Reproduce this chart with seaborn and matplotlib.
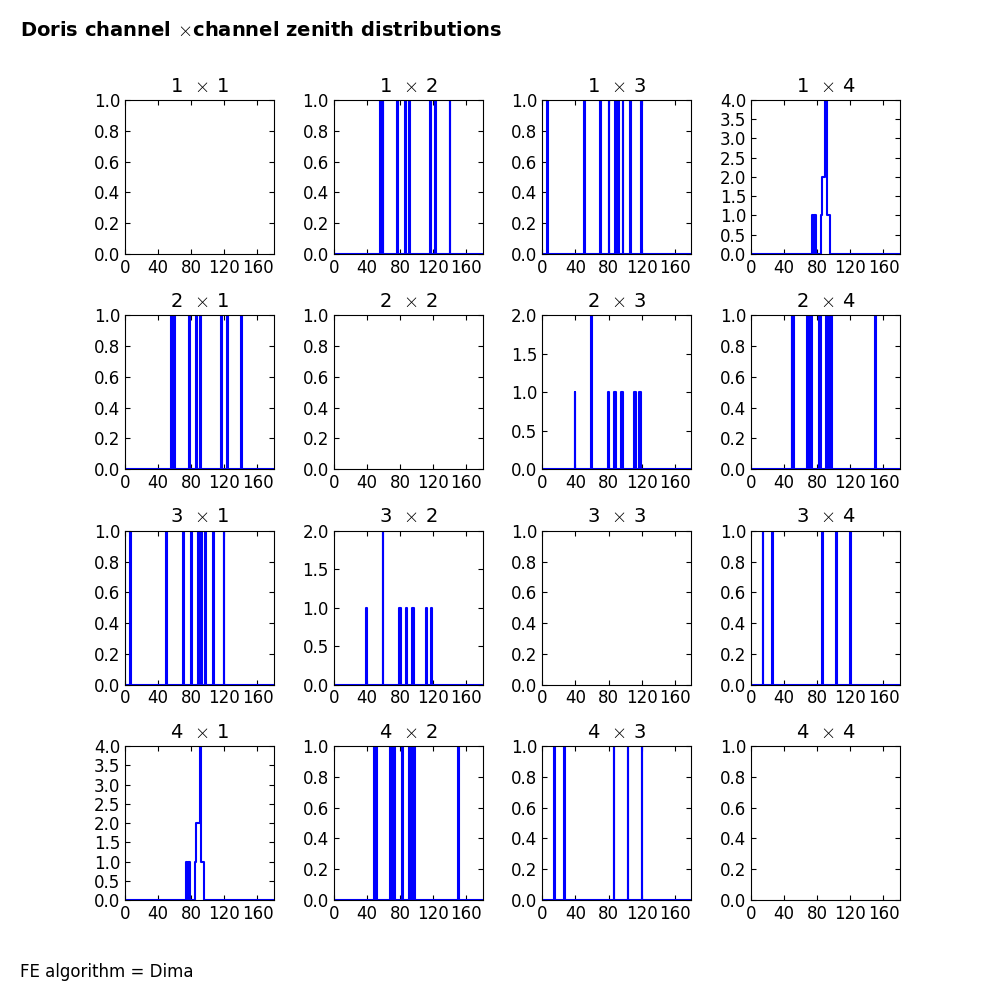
import numpy as np
import matplotlib
matplotlib.use("Agg")
import matplotlib.pyplot as plt
import seaborn as sns
from matplotlib.ticker import FormatStrFormatter

# zenith angles (deg) per channel pair
channels = [1, 2, 3, 4]
zenith_1_2 = [56, 59, 77, 86, 91, 116, 123, 140]
zenith_1_3 = [6, 50, 70, 80, 88, 92, 97, 106, 119]
zenith_1_4 = [74, 76, 77, 78, 85, 86, 86, 87, 87, 88, 88, 89, 89,
              90, 90, 90, 90, 91, 91, 91, 91, 92, 93, 94, 95]
zenith_2_3 = [39, 59, 59, 79, 80, 87, 88, 95, 96, 111, 112, 117, 118]
zenith_2_4 = [49, 51, 68, 70, 71, 73, 82, 83, 91, 93, 95, 97, 150]
zenith_3_4 = [14, 26, 86, 103, 120]
x_ticks = [0, 40, 80, 120, 160]

pairs = {(1, 2): zenith_1_2, (1, 3): zenith_1_3, (1, 4): zenith_1_4,
         (2, 3): zenith_2_3, (2, 4): zenith_2_4, (3, 4): zenith_3_4}

sns.set_style("white", rc={
    "axes.edgecolor": "black", "axes.linewidth": 1.0,
    "xtick.direction": "in", "ytick.direction": "in",
    "xtick.top": True, "ytick.right": True,
    "xtick.bottom": True, "ytick.left": True,
    "xtick.major.size": 3.5, "ytick.major.size": 3.5,
    "xtick.color": "black", "ytick.color": "black",
    "text.color": "black", "axes.labelcolor": "black",
})
plt.rcParams["font.family"] = ["DejaVu Sans"]
plt.rcParams["mathtext.fontset"] = "cm"
plt.rcParams["xtick.labelsize"] = 12
plt.rcParams["ytick.labelsize"] = 12
plt.rcParams["axes.titlesize"] = 14

fig, axes = plt.subplots(4, 4, figsize=(10, 10), dpi=100)
fig.subplots_adjust(left=0.125, right=0.9, bottom=0.1, top=0.9, wspace=0.4, hspace=0.4)

bins = np.arange(0, 181, 1)
for r, ci in enumerate(channels):
    for c, cj in enumerate(channels):
        ax = axes[r, c]
        vals = pairs.get((min(ci, cj), max(ci, cj)), [])
        ymax = 1
        if ci != cj and len(vals):
            sns.histplot(x=vals, binwidth=1, binrange=(0, 180), element="step",
                         fill=False, color="blue", linewidth=1.5, ax=ax)
            counts, _ = np.histogram(vals, bins=bins)
            ymax = max(1, counts.max())
        ax.set_xlabel("")
        ax.set_ylabel("")
        ax.set_xlim(0, 180)
        ax.set_ylim(0, ymax)
        ax.set_xticks(x_ticks)
        step = 0.2 if ymax <= 1 else 0.5
        ax.set_yticks(np.arange(0, ymax + step / 2, step))
        ax.yaxis.set_major_formatter(FormatStrFormatter("%.1f"))
        ax.set_title(f"{ci}  $\\times$ {cj}")

fig.text(0.02, 0.969, "Doris channel $\\times$channel zenith distributions",
         fontsize=14, fontweight="bold", ha="left", va="center")
fig.text(0.02, 0.028, "FE algorithm = Dima", fontsize=12, ha="left", va="center")

fig.savefig("out.png", dpi=100)
